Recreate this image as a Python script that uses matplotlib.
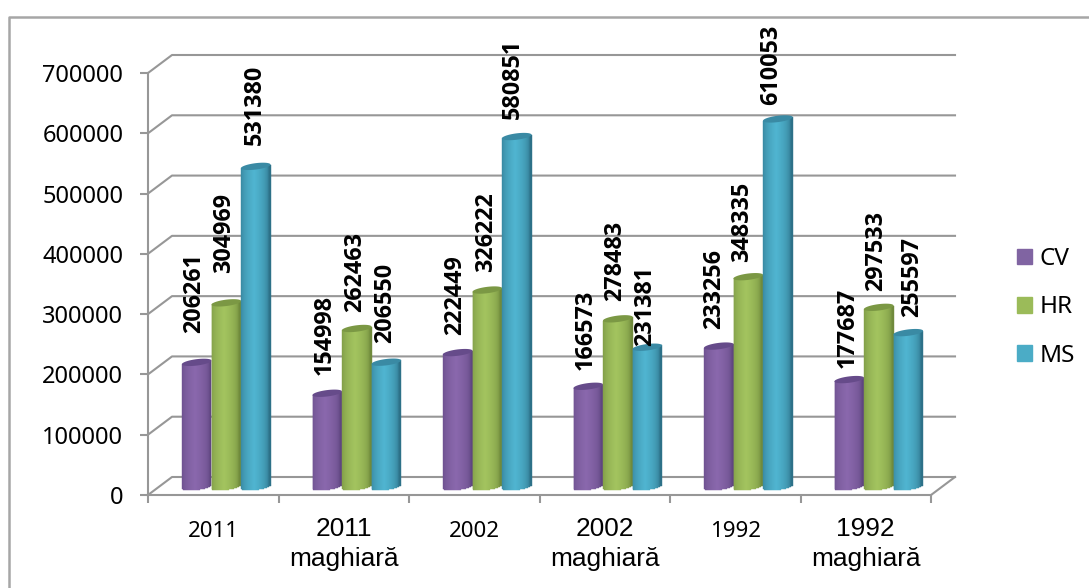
import numpy as np
import matplotlib
matplotlib.use('Agg')
import matplotlib.pyplot as plt
from matplotlib.lines import Line2D
from matplotlib.patches import Patch
from matplotlib.transforms import ScaledTranslation

# DATOS
categorias = ['2011', '2011\nmaghiară', '2002', '2002\nmaghiară', '1992', '1992\nmaghiară']
cv = [206261, 154998, 222449, 166573, 233256, 177687]
hr = [304969, 262463, 326222, 278483, 348335, 297533]
ms = [531380, 206550, 580851, 231381, 610053, 255597]
series = ['CV', 'HR', 'MS']
marcas_y = [0, 100000, 200000, 300000, 400000, 500000, 600000, 700000]

# colores: oscuro, claro, tapa
colores = {'CV': ('#5f4680', '#8a68ad', '#664b8a', '#8064a2'),
           'HR': ('#708a3c', '#a3c45f', '#7b9844', '#9bbb59'),
           'MS': ('#2d7188', '#50b5d1', '#3a8aa4', '#4bacc6')}
gris = '#979797'

# ajuste de etiquetas en pixeles (dx, separacion sobre la barra)
ajuste_dx = [-3, -2, -1, -3, -2, -1, -3, -1, -4, -3, -3, -2, -5, -6, -7, -2, -3, 4]
ajuste_sep = [25, 26, 17, 14, 12, 15, 14, 14, 14, 12, 14, -3, 13, 11, 10, 8, 12, 12]

W, H = 1089, 588
fig = plt.figure(figsize=(W/100, H/100), dpi=100)
ax = fig.add_axes([148/W, 1-495/H, 783/W, 422/H])
ax.set_xlim(0, 6)
ax.set_ylim(0, 700000)
ax.patch.set_alpha(0)

# escala de pixeles a datos
px_x = 6/783
px_y = 700000/422

# marco exterior
fig.add_artist(Line2D([9/W, 9/W, 1089/W], [0, 1-17/H, 1-17/H], color='#a6a6a6', lw=1.8))

# PAREDES
fondo_x = 24*px_x
fondo_y = 18*px_y
for v in marcas_y:
    ax.plot([0, fondo_x, 6+fondo_x], [v, v+fondo_y, v+fondo_y], color=gris, lw=1.5,
            clip_on=False, zorder=1)
ax.plot([6, 6+fondo_x], [0, fondo_y], color=gris, lw=1.5, clip_on=False, zorder=1)

base = 8.3*px_y


# CILINDROS
def cilindro(xi, ancho, valor, nombre, orden):
    oscuro, claro, tapa, _ = colores[nombre]
    b = 3.2*px_y     # semieje vertical
    k = 1.8*px_y     # inclinacion
    n = 30
    bordes = np.linspace(-1, 1, n+1)
    u = (bordes[:-1]+bordes[1:])/2
    co = np.array(matplotlib.colors.to_rgb(oscuro))
    cl = np.array(matplotlib.colors.to_rgb(claro))
    for j in range(n):
        peso = np.clip(1-abs(u[j]+0.1)/0.95, 0, 1)**0.4
        c = co+(cl-co)*peso
        abajo = base-b*np.sqrt(1-u[j]**2)+k*u[j]
        arriba = base+valor+k*u[j]
        ax.bar(xi+ancho/2*(1+u[j]), arriba-abajo, ancho/n, bottom=abajo, color=c,
               edgecolor=c, lw=0.3, clip_on=False, zorder=orden)
    t = np.linspace(0, 2*np.pi, 80)
    ax.fill(xi+ancho/2*(1+np.cos(t)), base+valor+b*np.sin(t)+k*np.cos(t), color=tapa,
            lw=0, clip_on=False, zorder=orden+0.1)


inicio = 34/130.5
ancho = 29.5/130.5
valores = [cv, hr, ms]
pos = 0
for i in range(len(categorias)):
    for s in range(3):
        xi = i+inicio+s*ancho
        cilindro(xi, ancho, valores[s][i], series[s], 3+s*0.2)
        ax.annotate(str(valores[s][i]), xy=(xi+ancho/2, base+valores[s][i]),
                    xytext=(ajuste_dx[pos], ajuste_sep[pos]+4), textcoords='offset pixels',
                    rotation=90, ha='center', va='bottom', fontsize=16.8,
                    fontweight='bold', family='Open Sans', color='black', zorder=8,
                    annotation_clip=False)
        pos = pos+1

# EJES
for lado in ['top', 'right']:
    ax.spines[lado].set_visible(False)
for lado in ['left', 'bottom']:
    ax.spines[lado].set_color(gris)
    ax.spines[lado].set_linewidth(1.5)
    ax.spines[lado].set_zorder(2)
ax.set_yticks(marcas_y)
ax.set_yticklabels([str(v) for v in marcas_y], fontsize=17, family='Noto Sans')
ax.tick_params(axis='y', length=5.8, width=1.5, color=gris, pad=12)
ax.set_xticks(range(7))
ax.set_xticklabels([])
ax.tick_params(axis='x', which='major', length=5.8, width=1.5, color=gris)
ax.set_xticks(np.arange(6)+0.5, categorias, minor=True)
ax.tick_params(axis='x', which='minor', length=0, pad=16)
for t, nombre in zip(ax.get_xticklabels(minor=True), categorias):
    if '\n' in nombre:
        t.set_fontfamily('Liberation Sans')
        t.set_fontsize(18.9)
        t.set_linespacing(1.3)
    else:
        t.set_fontfamily('Noto Sans')
        t.set_fontsize(16)
        t.set_transform(t.get_transform()+ScaledTranslation(0, -3/72, fig.dpi_scale_trans))

# LEYENDA
parches = [Patch(color=colores[s][3], label=s) for s in series]
fig.legend(handles=parches, loc='upper left', bbox_to_anchor=(1017/W, 1-247/H),
           bbox_transform=fig.transFigure, frameon=False, handlelength=0.62,
           handleheight=0.62, handletextpad=0.3, labelspacing=1.0, borderpad=0,
           borderaxespad=0, prop={'family': 'Noto Sans', 'size': 17.5})

plt.savefig('out.png', dpi=100)
